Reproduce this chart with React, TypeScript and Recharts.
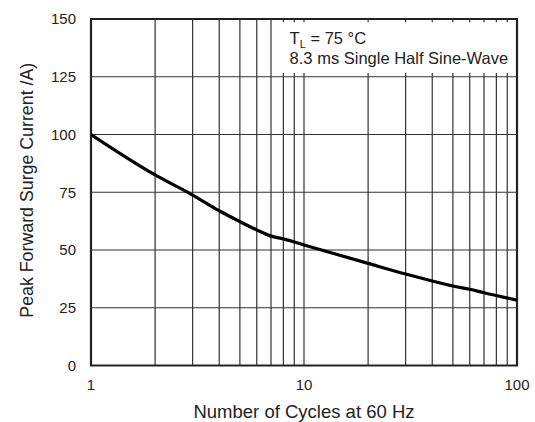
import React from "react";
import {
  LineChart,
  Line,
  XAxis,
  YAxis,
  ReferenceLine,
  ReferenceArea,
} from "recharts";

// curve
const cycles = [1, 2, 3, 4, 5, 6, 7, 8, 10, 20, 30, 40, 50, 60, 70, 100];
const surgeAmps = [100, 82.5, 73.8, 67, 62.3, 58.7, 56, 54.8, 52.2, 44.2, 39.6, 36.6, 34.4, 33, 31.5, 28.3];

const xTicks = [1, 10, 100];
const yTicks = [0, 25, 50, 75, 100, 125, 150];
const xMinorGrid = [2, 3, 4, 5, 6, 7, 8, 9, 10, 20, 30, 40, 50, 60, 70, 80, 90];
const yGrid = [25, 50, 75, 100, 125];

const noteLine1 = "= 75 °C";
const noteLine2 = "8.3 ms Single Half Sine-Wave";
const xTitle = "Number of Cycles at 60 Hz";
const yTitle = "Peak Forward Surge Current /A)";

const data = cycles.map((c, i) => ({ cycles: c, amps: surgeAmps[i] }));

const FONT = "'Liberation Sans', Arial, Helvetica, sans-serif";
const INK = "#222";
const GRID = "#333";

// note box: grid lines only leave short stubs inside it
const boxX = 7.6;
const boxLow = 126.6;
const boxHigh = 148.6;

const NoteLabel = (props: any) => {
  const { viewBox } = props;
  const x = viewBox.x + 11;
  const y = viewBox.y;
  return (
    <text x={x} y={y} fontFamily={FONT} fontSize={16.5} fill={INK}>
      <tspan x={x} y={y + 22}>T</tspan>
      <tspan fontSize={11} dy={4}>L</tspan>
      <tspan dy={-4}> {noteLine1}</tspan>
      <tspan x={x} y={y + 41.5}>{noteLine2}</tspan>
    </text>
  );
};

const YTitle = (props: any) => {
  const { viewBox } = props;
  const cy = viewBox.y + viewBox.height / 2 - 2;
  return (
    <text
      x={33}
      y={cy}
      transform={`rotate(-90 33 ${cy})`}
      textAnchor="middle"
      fontFamily={FONT}
      fontSize={17.8}
      fill={INK}
    >
      {yTitle}
    </text>
  );
};

const XTitle = (props: any) => {
  const { viewBox } = props;
  const cx = viewBox.x + viewBox.width / 2;
  return (
    <text x={cx} y={418} textAnchor="middle" fontFamily={FONT} fontSize={18.5} fill={INK}>
      {xTitle}
    </text>
  );
};

export default function App() {
  return (
    <div style={{ position: "absolute", left: 0, top: 0, background: "#fff" }}>
      <LineChart
        width={535}
        height={422}
        data={data}
        margin={{ top: 19, right: 18, left: 0, bottom: 0 }}
      >
        <XAxis
          dataKey="cycles"
          type="number"
          scale="log"
          domain={[1, 100]}
          ticks={xTicks}
          allowDataOverflow
          height={56.5}
          tickLine={false}
          axisLine={false}
          tickMargin={8}
          tick={{ fontFamily: FONT, fontSize: 15, fill: INK }}
          label={<XTitle />}
        />
        <YAxis
          type="number"
          domain={[0, 150]}
          ticks={yTicks}
          width={91}
          tickLine={false}
          axisLine={false}
          tickMargin={9}
          tick={{ fontFamily: FONT, fontSize: 15, fill: INK }}
          label={<YTitle />}
        />
        {yGrid.map((v) => (
          <ReferenceLine key={"y" + v} y={v} stroke={GRID} strokeWidth={1.2} />
        ))}
        {xMinorGrid.map((v) =>
          v < boxX ? (
            <ReferenceLine key={"x" + v} x={v} stroke={GRID} strokeWidth={1.2} />
          ) : (
            <React.Fragment key={"x" + v}>
              <ReferenceLine
                segment={[{ x: v, y: 0 }, { x: v, y: boxLow }]}
                stroke={GRID}
                strokeWidth={1.2}
              />
              <ReferenceLine
                segment={[{ x: v, y: boxHigh }, { x: v, y: 150 }]}
                stroke={GRID}
                strokeWidth={1.2}
              />
            </React.Fragment>
          )
        )}
        <ReferenceArea
          x1={boxX}
          x2={100}
          y1={boxLow}
          y2={boxHigh}
          fill="none"
          stroke="none"
          label={<NoteLabel />}
        />
        <Line
          dataKey="amps"
          type="monotone"
          stroke="#000"
          strokeWidth={3.2}
          dot={false}
          isAnimationActive={false}
        />
        <ReferenceArea
          x1={1}
          x2={100}
          y1={0}
          y2={150}
          fill="none"
          stroke="#222"
          strokeWidth={2.2}
        />
      </LineChart>
    </div>
  );
}
